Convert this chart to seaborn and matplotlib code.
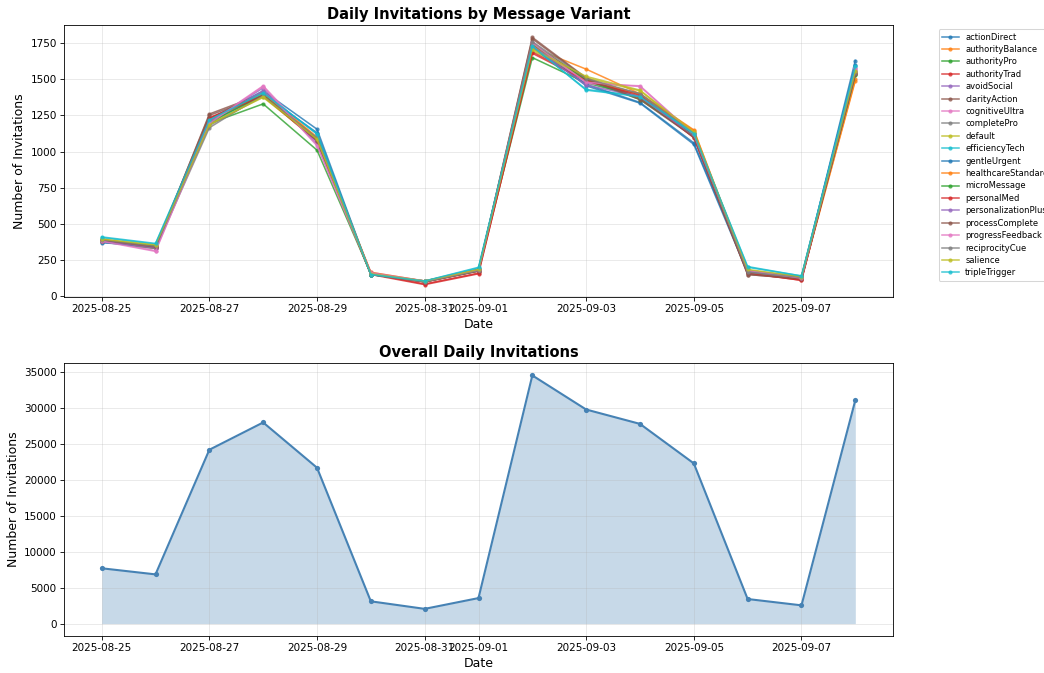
import pandas as pd
import matplotlib.pyplot as plt
import seaborn as sns

# Daily invitation counts per message variant
dates = pd.date_range("2025-08-25", "2025-09-08", freq="D")

variants = ["actionDirect", "authorityBalance", "authorityPro", "authorityTrad",
            "avoidSocial", "clarityAction", "cognitiveUltra", "completePro",
            "default", "efficiencyTech", "gentleUrgent", "healthcareStandard",
            "microMessage", "personalMed", "personalizationPlus", "processComplete",
            "progressFeedback", "reciprocityCue", "salience", "tripleTrigger"]

action_direct = [380, 345, 1225, 1420, 1155, 150, 105, 185, 1740, 1455, 1335, 1050, 160, 125, 1630]
authority_balance = [395, 340, 1215, 1410, 1100, 160, 100, 175, 1720, 1570, 1400, 1150, 175, 120, 1490]
authority_pro = [385, 350, 1195, 1330, 1010, 155, 105, 180, 1650, 1475, 1380, 1120, 165, 130, 1540]
authority_trad = [390, 335, 1230, 1385, 1070, 150, 80, 155, 1690, 1500, 1370, 1100, 160, 110, 1560]
avoid_social = [375, 340, 1210, 1440, 1050, 160, 100, 175, 1735, 1480, 1400, 1110, 170, 125, 1570]
clarity_action = [380, 330, 1260, 1400, 1080, 155, 100, 175, 1790, 1510, 1375, 1105, 150, 120, 1540]
cognitive_ultra = [385, 315, 1200, 1455, 1060, 165, 105, 175, 1760, 1470, 1455, 1120, 175, 125, 1580]
complete_pro = [375, 330, 1165, 1395, 1090, 150, 100, 180, 1745, 1495, 1400, 1125, 165, 130, 1550]
default = [390, 350, 1190, 1375, 1080, 155, 100, 180, 1700, 1510, 1420, 1130, 180, 130, 1545]
efficiency_tech = [405, 360, 1215, 1410, 1120, 150, 105, 195, 1725, 1430, 1385, 1120, 200, 140, 1590]
gentle_urgent = [370, 345, 1205, 1395, 1130, 150, 100, 185, 1720, 1465, 1340, 1060, 175, 135, 1600]
healthcare_standard = [385, 340, 1215, 1400, 1095, 165, 105, 180, 1740, 1500, 1395, 1145, 170, 125, 1500]
micro_message = [380, 345, 1200, 1390, 1085, 150, 100, 175, 1745, 1495, 1360, 1110, 165, 130, 1530]
personal_med = [385, 340, 1235, 1385, 1075, 155, 85, 160, 1680, 1490, 1390, 1095, 160, 110, 1545]
personalization_plus = [380, 335, 1210, 1420, 1070, 160, 100, 180, 1725, 1460, 1380, 1105, 170, 125, 1555]
process_complete = [390, 340, 1250, 1390, 1075, 155, 100, 175, 1780, 1505, 1360, 1100, 150, 120, 1535]
progress_feedback = [380, 310, 1195, 1450, 1040, 160, 105, 180, 1750, 1480, 1450, 1120, 180, 125, 1575]
reciprocity_cue = [390, 345, 1180, 1385, 1095, 150, 100, 180, 1760, 1505, 1400, 1130, 165, 130, 1545]
salience = [395, 355, 1185, 1380, 1085, 155, 105, 185, 1710, 1520, 1425, 1135, 185, 135, 1560]
triple_trigger = [410, 365, 1220, 1405, 1125, 150, 105, 200, 1730, 1425, 1380, 1125, 205, 140, 1590]

series = [action_direct, authority_balance, authority_pro, authority_trad, avoid_social,
          clarity_action, cognitive_ultra, complete_pro, default, efficiency_tech,
          gentle_urgent, healthcare_standard, micro_message, personal_med,
          personalization_plus, process_complete, progress_feedback, reciprocity_cue,
          salience, triple_trigger]

# Overall daily invitations
total_invites = [7700, 6850, 24200, 28000, 21700, 3100, 2050, 3550,
                 34550, 29800, 27800, 22300, 3420, 2540, 31100]

# long-form frame for seaborn
rows = []
for name, vals in zip(variants, series):
    for d, v in zip(dates, vals):
        rows.append({"date": d, "variant": name, "invites": v})
df = pd.DataFrame(rows)
totals = pd.DataFrame({"date": dates, "invites": total_invites})

W, H, DPI = 1044, 673, 75
fig = plt.figure(figsize=(W / DPI, H / DPI), dpi=DPI)
ax1 = fig.add_axes([64 / W, 1 - 297 / H, 829 / W, 272 / H])
ax2 = fig.add_axes([64 / W, 1 - 636 / H, 829 / W, 273 / H])

# Panel A: one line per variant
palette = list(sns.color_palette("tab10")) * 2
sns.lineplot(data=df, x="date", y="invites", hue="variant", hue_order=variants,
             palette=palette, marker="o", markersize=4, markeredgewidth=0,
             linewidth=1.5, alpha=0.8, ax=ax1)
ax1.set_title("Daily Invitations by Message Variant", fontsize=14, fontweight="bold")
ax1.set_xlabel("Date", fontsize=12)
ax1.set_ylabel("Number of Invitations", fontsize=12)
ax1.grid(True, alpha=0.3)
sns.move_legend(ax1, "upper left", bbox_to_anchor=(1.05, 1), title=None,
                fontsize=8, labelspacing=0.41)

# Panel B: overall totals with filled area
sns.lineplot(data=totals, x="date", y="invites", color="steelblue", marker="o",
             markersize=5, markeredgewidth=0, linewidth=2, ax=ax2)
ax2.fill_between(totals["date"], totals["invites"], alpha=0.3, color="steelblue",
                 linewidth=0)
ax2.set_title("Overall Daily Invitations", fontsize=14, fontweight="bold")
ax2.set_xlabel("Date", fontsize=12)
ax2.set_ylabel("Number of Invitations", fontsize=12)
ax2.grid(True, alpha=0.3)

fig.savefig("out.png", dpi=DPI)
